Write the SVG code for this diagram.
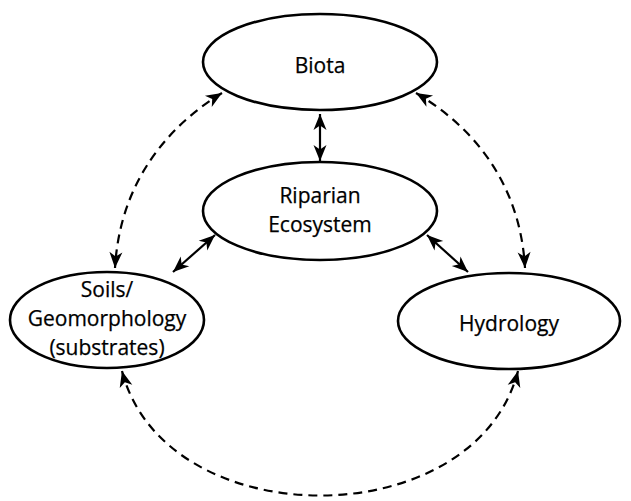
<svg xmlns="http://www.w3.org/2000/svg" width="631" height="501" viewBox="0 0 631 501">
<style>
.node ellipse{fill:#fff;stroke:#000;stroke-width:2.6}
.node text{font-family:"Open Sans","Liberation Sans",sans-serif;font-size:21px;fill:#000;text-anchor:middle;stroke:#000;stroke-width:0.25}
.solid{fill:none;stroke:#000;stroke-width:2.2;marker-start:url(#ah);marker-end:url(#ah)}
.dash{fill:none;stroke:#000;stroke-width:2.2;stroke-dasharray:9 6;marker-start:url(#ah);marker-end:url(#ah)}
</style>
<defs>
<marker id="ah" viewBox="-17 -8 19 16" refX="0" refY="0" markerWidth="19" markerHeight="16" markerUnits="userSpaceOnUse" orient="auto-start-reverse">
<path d="M0,0 L-16,-6.5 L-11.5,0 L-16,6.5 Z" fill="#000"/>
</marker>
</defs>
<g id="connectors">
<path class="solid" d="M320,114 L320,161"/>
<path class="solid" d="M215,235 L173,272"/>
<path class="solid" d="M427,235 L468,272"/>
<path class="dash" d="M222,93 C170,125 120,180 115,268"/>
<path class="dash" d="M416,93 C470,125 520,180 525,268"/>
<path class="dash" d="M122,371 C165,537 475,537 518,371"/>
</g>
<g id="biota" class="node">
<ellipse cx="320" cy="62" rx="117" ry="48"/>
<text x="320" y="73">Biota</text>
</g>
<g id="riparian" class="node">
<ellipse cx="320" cy="211" rx="117" ry="49"/>
<text x="320" y="203">Riparian</text>
<text x="320" y="232">Ecosystem</text>
</g>
<g id="soils" class="node">
<ellipse cx="107" cy="320" rx="97" ry="48"/>
<text x="107" y="297">Soils/</text>
<text x="107" y="326">Geomorphology</text>
<text x="107" y="355">(substrates)</text>
</g>
<g id="hydrology" class="node">
<ellipse cx="509" cy="321" rx="111" ry="48"/>
<text x="509" y="331">Hydrology</text>
</g>
</svg>
